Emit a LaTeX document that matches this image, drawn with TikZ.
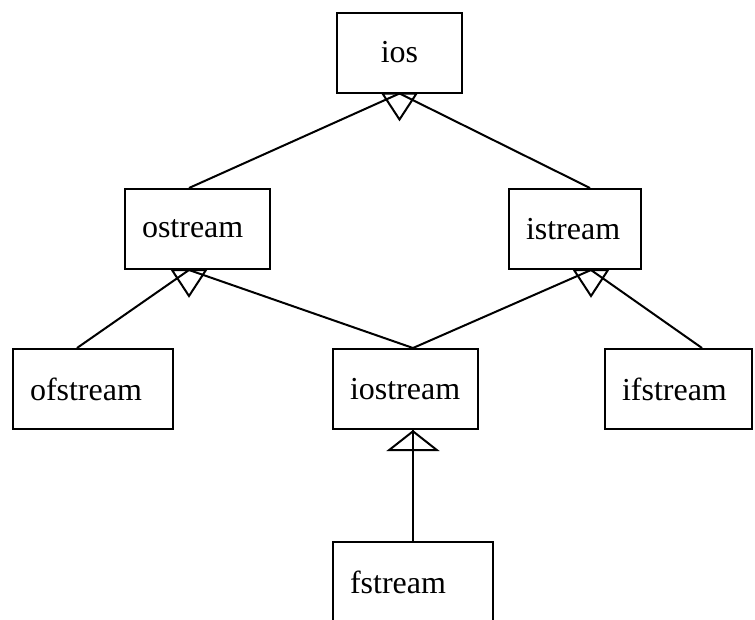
\documentclass[tikz,border=0pt]{standalone}
\usepackage{fontspec}
\setmainfont{Liberation Serif}
\usetikzlibrary{arrows.meta}

\tikzset{
  cls/.style     = {rectangle, draw=black, fill=white, line width=2pt,
                    minimum height=80pt, inner xsep=17pt, inner ysep=0pt,
                    align=left, font=\fontsize{32}{36}\selectfont},
  link/.style    = {line width=2pt, draw=black},
  inherit/.style = {link, -{Triangle[open, length=21pt, width=53pt, fill=white]}},
  basetri/.pic   = {\draw[link, fill=white, line join=miter]
                      (-17,0) -- (0,26) -- (17,0) -- cycle;}
}

\begin{document}
\begin{tikzpicture}[x=1pt, y=-1pt]
\useasboundingbox (0,0) rectangle (755,619);
\clip (0,0) rectangle (755,619);

% classes
\node[cls, text width=91pt, align=center] (ios) at (399.5,52.5) {ios};
\node[cls, text width=111pt] (ostream)  at (197.5,229)  {ostream};
\node[cls, text width=98pt]  (istream)  at (575,229)    {istream};
\node[cls, text width=126pt] (ofstream) at (93,389)     {ofstream};
\node[cls, text width=111pt] (iostream) at (405.5,389)  {iostream};
\node[cls, text width=113pt] (ifstream) at (678.5,389)  {ifstream};
\node[cls, text width=126pt] (fstream)  at (413,582)    {fstream};

% attach points
\coordinate (ios-b)      at (ios.south);
\coordinate (ostream-t)  at ([xshift=-8.5pt]ostream.north);
\coordinate (ostream-b)  at ([xshift=-8.5pt]ostream.south);
\coordinate (istream-t)  at ([xshift=15pt]istream.north);
\coordinate (istream-b)  at ([xshift=16pt]istream.south);
\coordinate (ofstream-t) at ([xshift=-16pt]ofstream.north);
\coordinate (iostream-t) at ([xshift=7.5pt]iostream.north);
\coordinate (iostream-b) at ([xshift=7.5pt]iostream.south);
\coordinate (ifstream-t) at ([xshift=23.5pt]ifstream.north);

% triangles at the base classes
\pic at (ios-b)     {basetri};
\pic at (ostream-b) {basetri};
\pic at (istream-b) {basetri};

% generalisations
\draw[link] (ostream-t)  -- (ios-b);
\draw[link] (istream-t)  -- (ios-b);
\draw[link] (ofstream-t) -- (ostream-b);
\draw[link] (iostream-t) -- (ostream-b);
\draw[link] (iostream-t) -- (istream-b);
\draw[link] (ifstream-t) -- (istream-b);
\draw[inherit] (fstream.north) -- (iostream-b);
\draw[link] (fstream.north) -- (iostream-b);
\end{tikzpicture}
\end{document}
